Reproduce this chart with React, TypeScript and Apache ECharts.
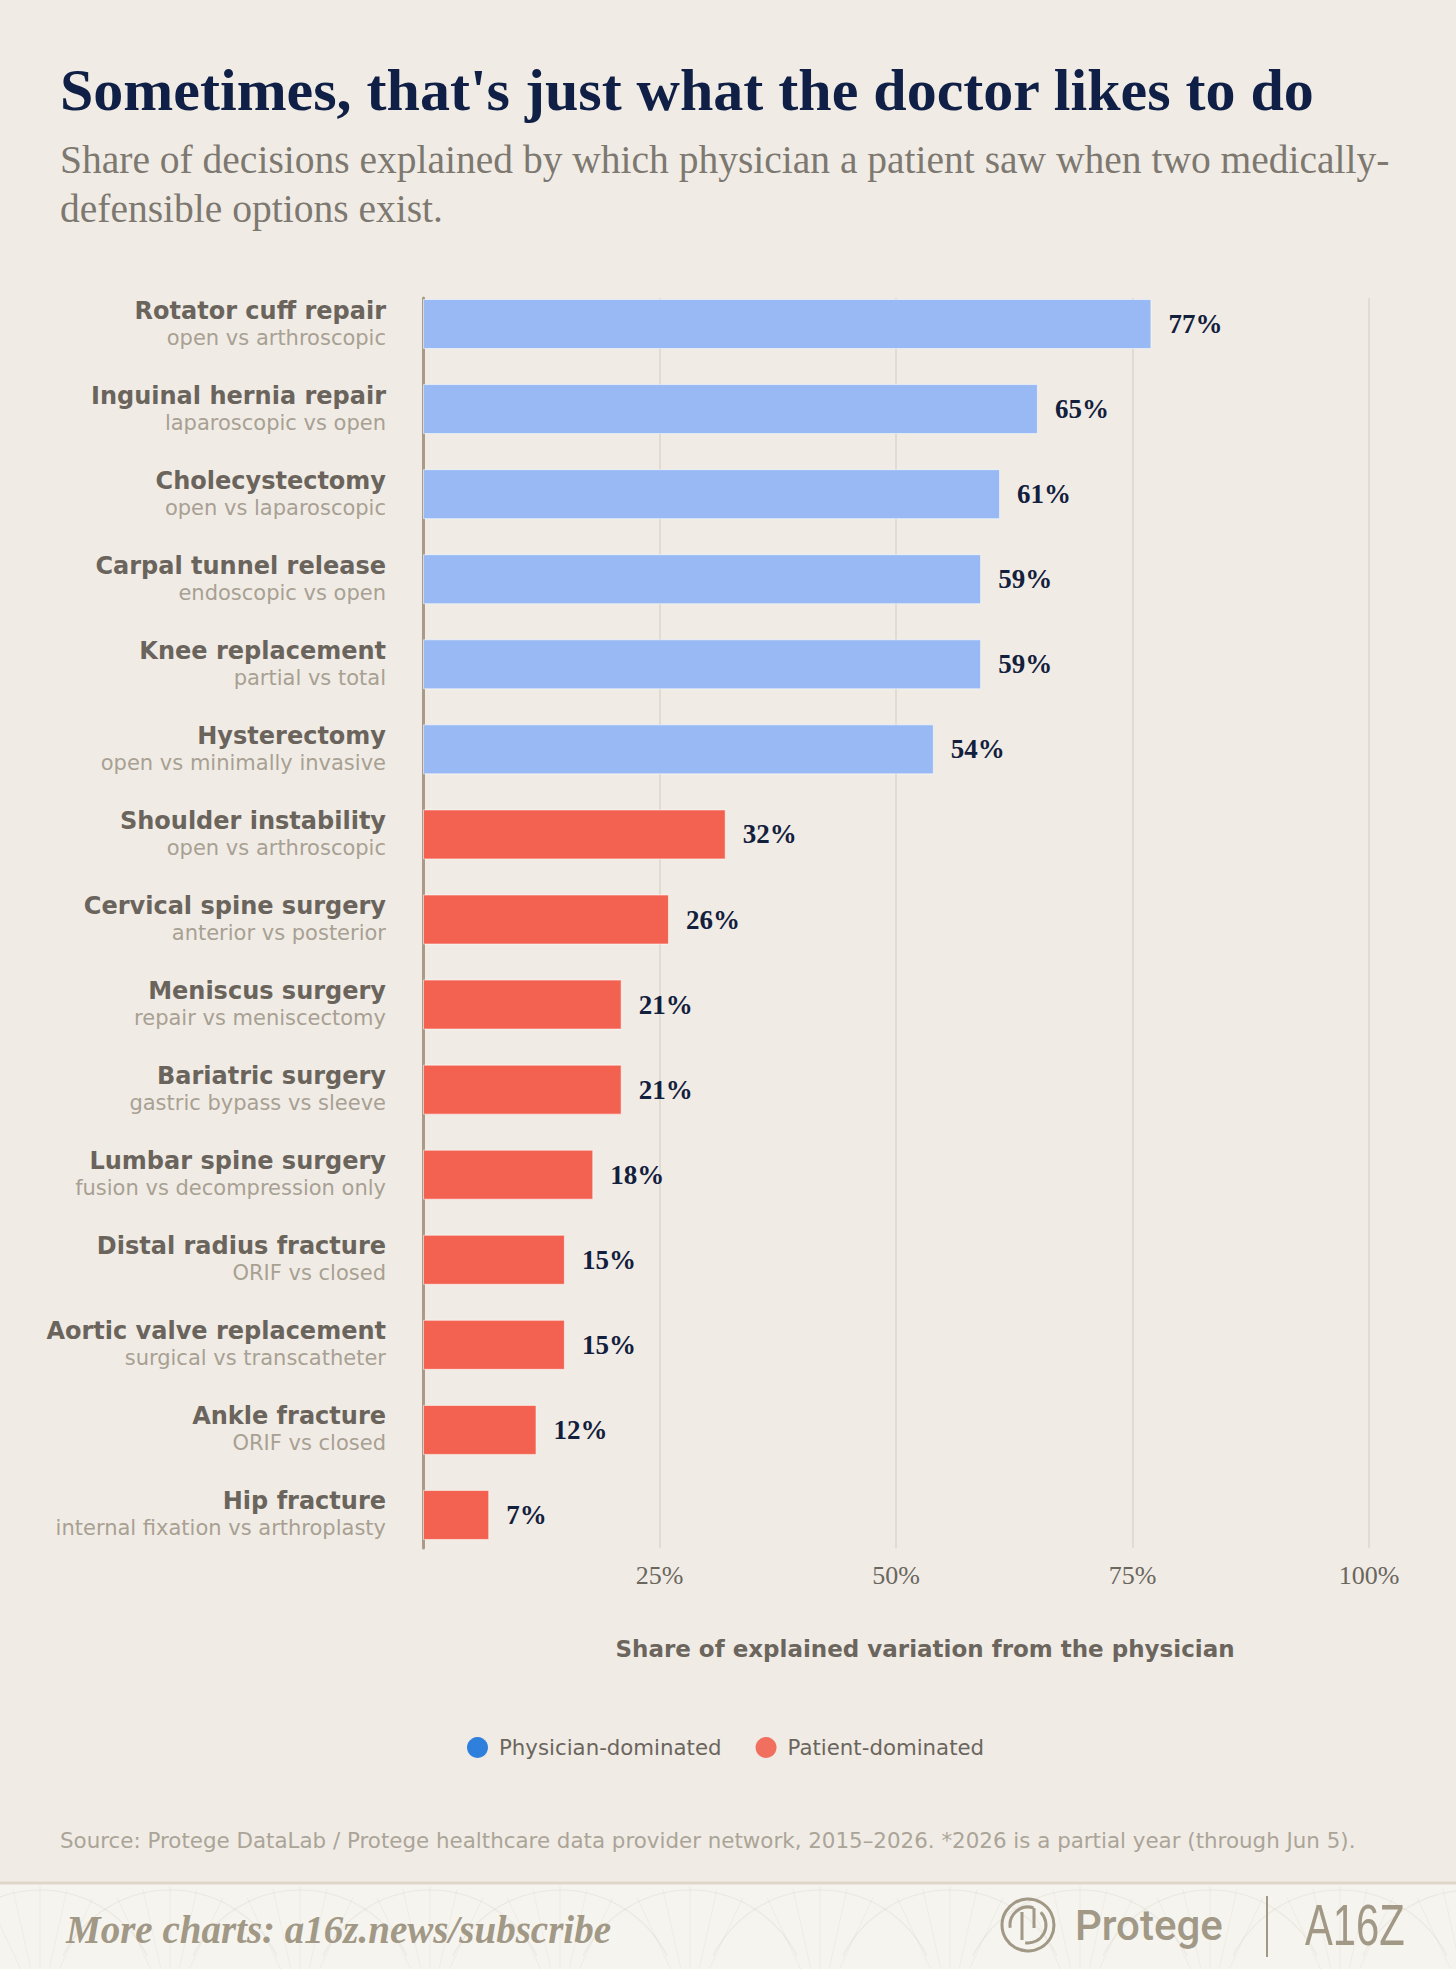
import { useEffect, useRef } from "react";
import * as echarts from "echarts";

const categories = [
  "Rotator cuff repair",
  "Inguinal hernia repair",
  "Cholecystectomy",
  "Carpal tunnel release",
  "Knee replacement",
  "Hysterectomy",
  "Shoulder instability",
  "Cervical spine surgery",
  "Meniscus surgery",
  "Bariatric surgery",
  "Lumbar spine surgery",
  "Distal radius fracture",
  "Aortic valve replacement",
  "Ankle fracture",
  "Hip fracture",
];

const subLabels = [
  "open vs arthroscopic",
  "laparoscopic vs open",
  "open vs laparoscopic",
  "endoscopic vs open",
  "partial vs total",
  "open vs minimally invasive",
  "open vs arthroscopic",
  "anterior vs posterior",
  "repair vs meniscectomy",
  "gastric bypass vs sleeve",
  "fusion vs decompression only",
  "ORIF vs closed",
  "surgical vs transcatheter",
  "ORIF vs closed",
  "internal fixation vs arthroplasty",
];

const values = [77, 65, 61, 59, 59, 54, 32, 26, 21, 21, 18, 15, 15, 12, 7];

// 0 = Physician-dominated, 1 = Patient-dominated
const groups = [0, 0, 0, 0, 0, 0, 1, 1, 1, 1, 1, 1, 1, 1, 1];

const seriesNames = ["Physician-dominated", "Patient-dominated"];
const barColors = ["#98b9f3", "#f36251"];
const legendColors = ["#2f80dd", "#f16f5f"];

const xMin = 0;
const xMax = 100;
const xStep = 25;

const titleText = "Sometimes, that's just what the doctor likes to do";
const subtitleLines = [
  "Share of decisions explained by which physician a patient saw when two medically-",
  "defensible options exist.",
];
const axisTitle = "Share of explained variation from the physician";
const sourceText =
  "Source: Protege DataLab / Protege healthcare data provider network, 2015–2026. *2026 is a partial year (through Jun 5).";
const footerText = "More charts: a16z.news/subscribe";

export default function App() {
  const ref = useRef<HTMLDivElement>(null);

  useEffect(() => {
    document.body.style.margin = "0";
    const chart = echarts.init(ref.current!, null, { renderer: "svg" });

    const sans = "'DejaVu Sans', 'Open Sans', sans-serif";
    const serif = "'Liberation Serif', 'DejaVu Serif', serif";
    const footColor = "#a19886";

    const patternArcs: any[] = [];
    for (let i = 0; i < 12; i++) {
      const cx = 40 + i * 130;
      patternArcs.push({
        type: "arc",
        silent: true,
        shape: { cx, cy: 2010, r: 120, startAngle: Math.PI * 1.15, endAngle: Math.PI * 1.85 },
        style: { stroke: "rgba(200,190,172,0.22)", lineWidth: 1.2, fill: "none" },
      });
      for (let k = -2; k <= 2; k++) {
        const a = -Math.PI / 2 + k * 0.22;
        patternArcs.push({
          type: "line",
          silent: true,
          shape: {
            x1: cx,
            y1: 2010,
            x2: cx + Math.cos(a) * 124,
            y2: 2010 + Math.sin(a) * 124,
          },
          style: { stroke: "rgba(200,190,172,0.16)", lineWidth: 1 },
        });
      }
    }

    const option: any = {
      animation: false,
      backgroundColor: "#f0ece5",
      grid: [
        { left: 423, right: 87, top: 281.5, bottom: 411.5 },
        { left: 423, right: 87, top: 298, bottom: 421 },
      ],
      legend: {
        data: seriesNames.map((n, i) => ({ name: n, itemStyle: { color: legendColors[i] } })),
        left: 462,
        top: 1732,
        icon: "circle",
        itemWidth: 21,
        itemHeight: 21,
        itemGap: 34,
        selectedMode: false,
        textStyle: {
          fontFamily: sans,
          fontSize: 21.3,
          color: "#6b655d",
          padding: [0, 0, 0, 6],
        },
      },
      xAxis: [
        { type: "value", gridIndex: 0, min: xMin, max: xMax, show: false },
        {
          type: "value",
          gridIndex: 1,
          min: xMin,
          max: xMax,
          interval: xStep,
          axisLine: { show: false },
          axisTick: { show: false },
          splitLine: { show: true, lineStyle: { color: "#ddd6ca", width: 1.5 } },
          axisLabel: {
            formatter: "{value}%",
            showMinLabel: false,
            margin: 14,
            fontFamily: serif,
            fontSize: 26,
            color: "#6b665e",
          },
        },
      ],
      yAxis: [
        {
          type: "category",
          gridIndex: 0,
          data: categories,
          inverse: true,
          axisLine: { show: false },
          axisTick: { show: false },
          splitLine: { show: false },
          axisLabel: {
            margin: 37,
            formatter: (v: string, i: number) => `{a|${v}}\n{b|${subLabels[i]}}`,
            rich: {
              a: {
                fontFamily: sans,
                fontWeight: "bold",
                fontSize: 24,
                color: "#6a645c",
                lineHeight: 27,
                align: "right",
              },
              b: {
                fontFamily: sans,
                fontSize: 21,
                color: "#a8a093",
                lineHeight: 27,
                align: "right",
              },
            },
          },
        },
        {
          type: "value",
          gridIndex: 1,
          min: 0,
          max: 1,
          axisLine: { show: true, lineStyle: { color: "#a99b87", width: 3 } },
          axisTick: { show: false },
          axisLabel: { show: false },
          splitLine: { show: false },
        },
      ],
      series: [
        ...seriesNames.map((name, gi) => ({
          type: "bar",
          name,
          stack: "v",
          xAxisIndex: 0,
          yAxisIndex: 0,
          barWidth: 50,
          itemStyle: { color: legendColors[gi] },
          z: 3,
          data: values.map((v, i) =>
            groups[i] === gi
              ? {
                  value: v,
                  itemStyle: {
                    color: barColors[gi],
                    borderColor: "rgba(255,255,255,0.55)",
                    borderWidth: 1,
                  },
                }
              : "-"
          ),
          label: {
            show: true,
            position: "right",
            distance: 17,
            formatter: "{c}%",
            fontFamily: serif,
            fontWeight: "bold",
            fontSize: 27,
            color: "#13203d",
          },
        })),
        {
          type: "scatter",
          name: "_lines",
          xAxisIndex: 1,
          yAxisIndex: 1,
          data: [],
          silent: true,
        },
      ],
      graphic: [
        {
          type: "text",
          x: 60,
          y: 90,
          style: {
            text: titleText,
            fill: "#0f1f45",
            fontFamily: serif,
            fontWeight: "bold",
            fontSize: 60,
            textAlign: "left",
            textVerticalAlign: "middle",
          },
        },
        ...subtitleLines.map((t, i) => ({
          type: "text",
          x: 60,
          y: 160 + i * 49,
          style: {
            text: t,
            fill: "#7d7870",
            fontFamily: serif,
            fontSize: 39.5,
            textAlign: "left",
            textVerticalAlign: "middle",
          },
        })),
        {
          type: "text",
          x: 925,
          y: 1649,
          style: {
            text: axisTitle,
            fill: "#6b655d",
            fontFamily: sans,
            fontWeight: "bold",
            fontSize: 23,
            textAlign: "center",
            textVerticalAlign: "middle",
          },
        },
        {
          type: "text",
          x: 60,
          y: 1840,
          style: {
            text: sourceText,
            fill: "#aba498",
            fontFamily: sans,
            fontSize: 21.4,
            textAlign: "left",
            textVerticalAlign: "middle",
          },
        },
        {
          type: "rect",
          silent: true,
          shape: { x: 0, y: 1884, width: 1456, height: 90 },
          style: { fill: "#f6f4ef" },
        },
        ...patternArcs,
        {
          type: "line",
          silent: true,
          shape: { x1: 0, y1: 1883, x2: 1456, y2: 1883 },
          style: { stroke: "#ddd6c9", lineWidth: 3 },
        },
        {
          type: "text",
          x: 66,
          y: 1929,
          style: {
            text: footerText,
            fill: footColor,
            fontFamily: serif,
            fontStyle: "italic",
            fontWeight: "bold",
            fontSize: 39,
            textAlign: "left",
            textVerticalAlign: "middle",
          },
        },
        {
          type: "circle",
          shape: { cx: 1028, cy: 1925, r: 26 },
          style: { stroke: footColor, lineWidth: 3, fill: "none" },
        },
        {
          type: "arc",
          shape: { cx: 1028, cy: 1925, r: 18, startAngle: Math.PI * 0.95, endAngle: Math.PI * 1.6 },
          style: { stroke: footColor, lineWidth: 3, fill: "none" },
        },
        {
          type: "arc",
          shape: { cx: 1028, cy: 1925, r: 18, startAngle: Math.PI * 1.75, endAngle: Math.PI * 2.55 },
          style: { stroke: footColor, lineWidth: 3, fill: "none" },
        },
        {
          type: "line",
          shape: { x1: 1022, y1: 1912, x2: 1022, y2: 1940 },
          style: { stroke: footColor, lineWidth: 3 },
        },
        {
          type: "line",
          shape: { x1: 1034, y1: 1908, x2: 1034, y2: 1928 },
          style: { stroke: footColor, lineWidth: 3 },
        },
        {
          type: "text",
          x: 1075,
          y: 1925,
          style: {
            text: "Protege",
            fill: footColor,
            fontFamily: "Roboto, sans-serif",
            fontWeight: 500,
            fontSize: 42,
            textAlign: "left",
            textVerticalAlign: "middle",
          },
        },
        {
          type: "line",
          shape: { x1: 1267, y1: 1896, x2: 1267, y2: 1957 },
          style: { stroke: footColor, lineWidth: 2 },
        },
        {
          type: "text",
          x: 1305,
          y: 1925,
          scaleX: 0.72,
          style: {
            text: "A16Z",
            fill: footColor,
            fontFamily: "'Liberation Sans', sans-serif",
            fontSize: 58,
            textAlign: "left",
            textVerticalAlign: "middle",
          },
        },
      ],
    };

    chart.setOption(option);
    return () => chart.dispose();
  }, []);

  return <div ref={ref} style={{ width: 1456, height: 1969 }} />;
}
